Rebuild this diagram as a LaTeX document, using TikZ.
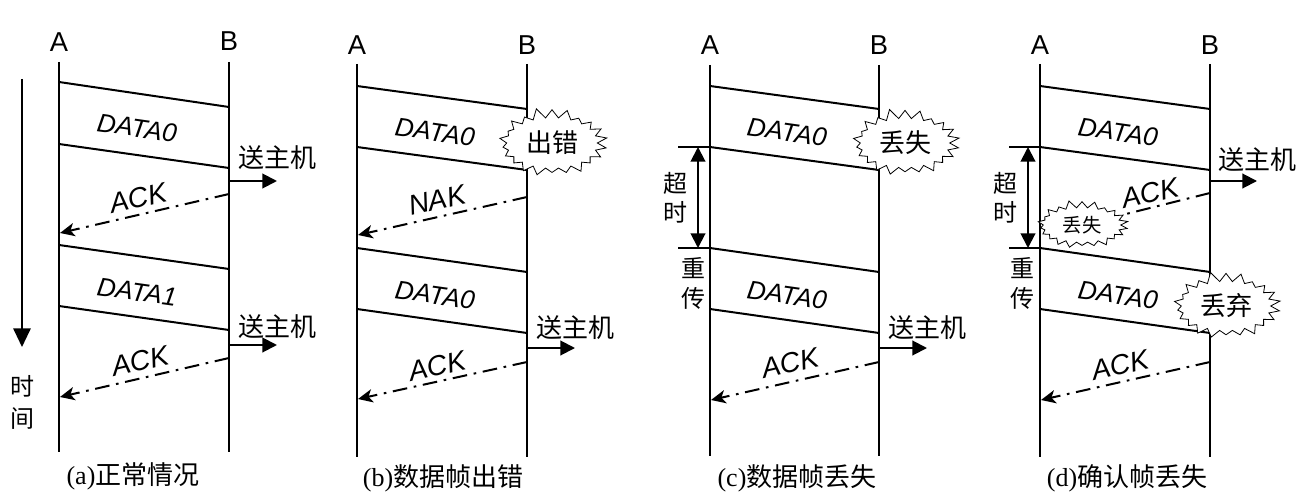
\documentclass[tikz,border=0pt]{standalone}
\usepackage{fontspec}
\setmainfont{Liberation Sans}
\newfontfamily\cjk{Noto Sans CJK SC}
\newfontfamily\serifcap{Liberation Serif}
\usetikzlibrary{arrows.meta,shapes.symbols}
\tikzset{
  life/.style={line width=1.5pt},
  msg/.style={line width=1.5pt},
  ackline/.style={line width=1.5pt, dash pattern=on 11pt off 5pt on 2pt off 5pt},
  ackarrow/.style={ackline, -{Stealth[length=11pt,width=10pt,inset=3pt]}},
  hostarrow/.style={line width=1.5pt, -{Triangle[length=11pt,width=11pt]}},
  timearrow/.style={line width=1.5pt, -{Triangle[length=14pt,width=13pt]}},
  toarrow/.style={line width=1.5pt, {Triangle[length=11pt,width=11pt]}-{Triangle[length=11pt,width=11pt]}},
  tick/.style={line width=1.5pt},
  ab/.style={font=\fontsize{20.5}{22}\selectfont, inner sep=0pt},
  msglbl/.style={font=\fontsize{19.5}{21}\selectfont\itshape, inner sep=0pt},
  acklbl/.style={font=\fontsize{21}{23}\selectfont\itshape, inner sep=0pt, rotate=13},
  hostlbl/.style={font=\fontsize{19.5}{21}\selectfont\cjk, inner sep=0pt},
  vlbl/.style={font=\fontsize{18}{20}\selectfont\cjk, inner sep=0pt},
  caplbl/.style={font=\fontsize{19.5}{21}\selectfont, inner sep=0pt},
  burst/.style={starburst, draw, fill=white, line width=0.6pt, starburst points=22,
     starburst point height=8pt, random starburst=11, inner sep=0pt,
     font=\fontsize{19.5}{21}\selectfont\cjk},
}
\begin{document}
\begin{tikzpicture}[x=0.75pt,y=-0.75pt]
\useasboundingbox (0,0) rectangle (1302,499);

% ================= (a) =================
\node[ab] (aA) at (59,42) {A};
\node[ab] (aB) at (229,41) {B};
\coordinate (aAt) at (59,62); \coordinate (aAb) at (59,452);
\coordinate (aBt) at (229,62); \coordinate (aBb) at (229,452);
\draw[life] (aAt) -- (aAb);
\draw[life] (aBt) -- (aBb);
\coordinate (aT1) at (22,79); \coordinate (aT2) at (22,347);
\draw[timearrow] (aT1) -- (aT2);
\node[vlbl] (ashi) at (22,386) {时};
\node[vlbl] (ajian) at (22,419) {间};
\coordinate (a1s) at (59,82);  \coordinate (a1e) at (229,107);
\coordinate (a2s) at (59,144); \coordinate (a2e) at (229,168);
\draw[msg] (a1s) -- (a1e);
\draw[msg] (a2s) -- (a2e);
\node[msglbl, rotate=-8] (ad0) at (137,128) {DATA0};
\coordinate (ah1s) at (229,181); \coordinate (ah1e) at (277,181);
\draw[hostarrow] (ah1s) -- (ah1e);
\node[hostlbl] (ahost1) at (277,158) {送主机};
\coordinate (aa1s) at (229,194); \coordinate (aa1e) at (60,233);
\draw[ackarrow] (aa1s) -- (aa1e);
\node[acklbl] (aack1) at (138,198) {ACK};
\coordinate (a3s) at (59,245); \coordinate (a3e) at (229,269);
\coordinate (a4s) at (59,306); \coordinate (a4e) at (229,330);
\draw[msg] (a3s) -- (a3e);
\draw[msg] (a4s) -- (a4e);
\node[msglbl, rotate=-8] (ad1) at (137,292) {DATA1};
\coordinate (ah2s) at (229,345); \coordinate (ah2e) at (277,345);
\draw[hostarrow] (ah2s) -- (ah2e);
\node[hostlbl] (ahost2) at (277,327) {送主机};
\coordinate (aa2s) at (229,358); \coordinate (aa2e) at (60,397);
\draw[ackarrow] (aa2s) -- (aa2e);
\node[acklbl] (aack2) at (140,361) {ACK};
\node[caplbl] (acap) at (133,476) {{\serifcap (a)}{\cjk 正常情况}};

% ================= (b) =================
\node[ab] (bA) at (357,45) {A};
\node[ab] (bB) at (527,45) {B};
\coordinate (bAt) at (357,64); \coordinate (bAb) at (357,457);
\coordinate (bBt) at (527,64); \coordinate (bBb) at (527,457);
\draw[life] (bAt) -- (bAb);
\draw[life] (bBt) -- (bBb);
\coordinate (b1s) at (357,86);  \coordinate (b1e) at (527,109);
\coordinate (b2s) at (357,147); \coordinate (b2e) at (527,170);
\draw[msg] (b1s) -- (b1e);
\draw[msg] (b2s) -- (b2e);
\node[msglbl, rotate=-8] (bd0) at (435,132) {DATA0};
\node[burst, minimum width=84pt, minimum height=54pt] (berr) at (552,143) {出错};
\coordinate (bn1s) at (527,197); \coordinate (bn1e) at (358,235);
\draw[ackarrow] (bn1s) -- (bn1e);
\node[acklbl] (bnak) at (437,200) {NAK};
\coordinate (b3s) at (357,248); \coordinate (b3e) at (527,272);
\coordinate (b4s) at (357,309); \coordinate (b4e) at (527,333);
\draw[msg] (b3s) -- (b3e);
\draw[msg] (b4s) -- (b4e);
\node[msglbl, rotate=-8] (bd1) at (435,295) {DATA0};
\coordinate (bh1s) at (527,348); \coordinate (bh1e) at (575,348);
\draw[hostarrow] (bh1s) -- (bh1e);
\node[hostlbl] (bhost1) at (575,328) {送主机};
\coordinate (ba1s) at (527,362); \coordinate (ba1e) at (358,399);
\draw[ackarrow] (ba1s) -- (ba1e);
\node[acklbl] (back1) at (437,366) {ACK};
\node[caplbl] (bcap) at (443,478) {{\serifcap (b)}{\cjk 数据帧出错}};

% ================= (c) =================
\node[ab] (cA) at (710,45) {A};
\node[ab] (cB) at (879,45) {B};
\coordinate (cAt) at (710,65); \coordinate (cAb) at (710,456);
\coordinate (cBt) at (879,65); \coordinate (cBb) at (879,456);
\draw[life] (cAt) -- (cAb);
\draw[life] (cBt) -- (cBb);
\coordinate (c1s) at (710,86);  \coordinate (c1e) at (879,109);
\coordinate (c2s) at (710,147); \coordinate (c2e) at (879,170);
\draw[msg] (c1s) -- (c1e);
\draw[msg] (c2s) -- (c2e);
\node[msglbl, rotate=-8] (cd0) at (787,132) {DATA0};
\node[burst, minimum width=83pt, minimum height=53pt] (clost) at (905,143) {丢失};
\coordinate (ct1a) at (678,147); \coordinate (ct1b) at (710,147);
\coordinate (ct2a) at (678,248); \coordinate (ct2b) at (710,248);
\draw[tick] (ct1a) -- (ct1b);
\draw[tick] (ct2a) -- (ct2b);
\coordinate (cto1) at (698,147); \coordinate (cto2) at (698,248);
\draw[toarrow] (cto1) -- (cto2);
\node[vlbl] (cchao) at (675,183) {超};
\node[vlbl] (cshi) at (675,212) {时};
\coordinate (c3s) at (710,248); \coordinate (c3e) at (879,272);
\coordinate (c4s) at (710,309); \coordinate (c4e) at (879,333);
\draw[msg] (c3s) -- (c3e);
\draw[msg] (c4s) -- (c4e);
\node[msglbl, rotate=-8] (cd1) at (787,295) {DATA0};
\node[vlbl] (czhong) at (693,268) {重};
\node[vlbl] (cchuan) at (693,298) {传};
\coordinate (ch1s) at (879,348); \coordinate (ch1e) at (927,348);
\draw[hostarrow] (ch1s) -- (ch1e);
\node[hostlbl] (chost1) at (927,328) {送主机};
\coordinate (ca1s) at (879,362); \coordinate (ca1e) at (711,400);
\draw[ackarrow] (ca1s) -- (ca1e);
\node[acklbl] (cack1) at (790,363) {ACK};
\node[caplbl] (ccap) at (797,478) {{\serifcap (c)}{\cjk 数据帧丢失}};

% ================= (d) =================
\node[ab] (dA) at (1040,45) {A};
\node[ab] (dB) at (1210,45) {B};
\coordinate (dAt) at (1040,64); \coordinate (dAb) at (1040,457);
\coordinate (dBt) at (1210,64); \coordinate (dBb) at (1210,457);
\draw[life] (dAt) -- (dAb);
\draw[life] (dBt) -- (dBb);
\coordinate (d1s) at (1040,86);  \coordinate (d1e) at (1210,109);
\coordinate (d2s) at (1040,147); \coordinate (d2e) at (1210,170);
\draw[msg] (d1s) -- (d1e);
\draw[msg] (d2s) -- (d2e);
\node[msglbl, rotate=-8] (dd0) at (1118,132) {DATA0};
\coordinate (dh1s) at (1210,181); \coordinate (dh1e) at (1257,181);
\draw[hostarrow] (dh1s) -- (dh1e);
\node[hostlbl] (dhost1) at (1257,160) {送主机};
\node[burst, minimum width=70pt, minimum height=38pt, starburst point height=6pt,
      font=\fontsize{14.5}{16}\selectfont\cjk] (dlost) at (1082,225) {丢失};
\coordinate (da1s) at (1210,193);
\draw[ackline] (da1s) -- (dlost);
\node[acklbl] (dack1) at (1150,193) {ACK};
\coordinate (dt1a) at (1009,147); \coordinate (dt1b) at (1040,147);
\coordinate (dt2a) at (1009,248); \coordinate (dt2b) at (1040,248);
\draw[tick] (dt1a) -- (dt1b);
\draw[tick] (dt2a) -- (dt2b);
\coordinate (dto1) at (1028,147); \coordinate (dto2) at (1028,248);
\draw[toarrow] (dto1) -- (dto2);
\node[vlbl] (dchao) at (1005,183) {超};
\node[vlbl] (dshi) at (1005,212) {时};
\coordinate (d3s) at (1040,248); \coordinate (d3e) at (1210,272);
\coordinate (d4s) at (1040,309); \coordinate (d4e) at (1210,333);
\draw[msg] (d3s) -- (d3e);
\draw[msg] (d4s) -- (d4e);
\node[msglbl, rotate=-8] (dd1) at (1118,295) {DATA0};
\node[burst, minimum width=83pt, minimum height=53pt] (ddrop) at (1226,306) {丢弃};
\node[vlbl] (dzhong) at (1022,268) {重};
\node[vlbl] (dchuan) at (1022,298) {传};
\coordinate (da2s) at (1210,362); \coordinate (da2e) at (1041,400);
\draw[ackarrow] (da2s) -- (da2e);
\node[acklbl] (dack2) at (1120,365) {ACK};
\node[caplbl] (dcap) at (1127,478) {{\serifcap (d)}{\cjk 确认帧丢失}};
\end{tikzpicture}
\end{document}
